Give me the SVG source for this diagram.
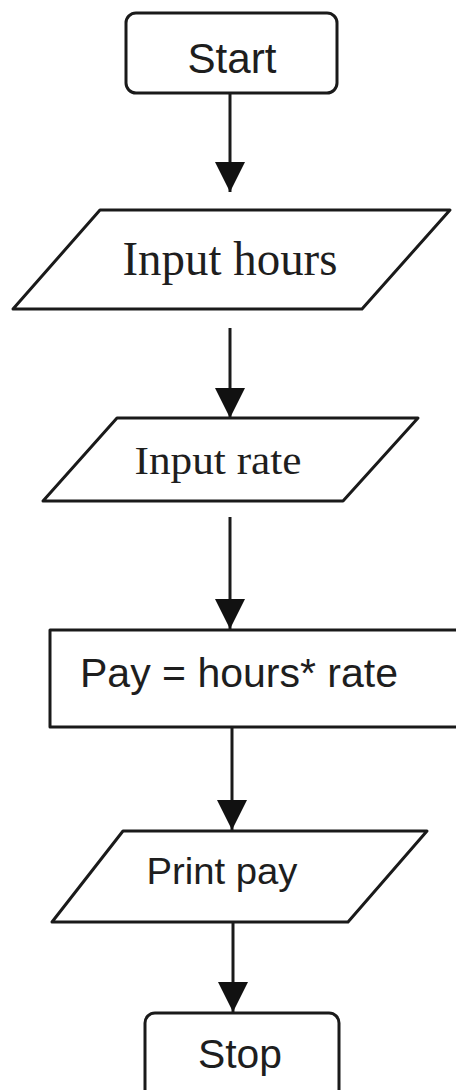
<svg xmlns="http://www.w3.org/2000/svg" width="456" height="1090" viewBox="0 0 456 1090">
<style>
.shape{fill:#fff;stroke:#1a1a1a;stroke-width:3;stroke-linejoin:round}
.edge{stroke:#1a1a1a;stroke-width:3;fill:none}
.sans{font-family:"Liberation Sans",Arial,sans-serif;fill:#1e1e1e}
.serif{font-family:"Liberation Serif","Times New Roman",serif;fill:#1e1e1e}
</style>
<defs>
<marker id="ah" viewBox="0 0 30 30" refX="30" refY="15" markerWidth="30" markerHeight="30" markerUnits="userSpaceOnUse" orient="auto">
<path d="M0,0 L30,15 L0,30 Z" fill="#111"/>
</marker>
</defs>
<rect width="456" height="1090" fill="#fff"/>
<g id="connectors">
<line class="edge" x1="230" y1="93" x2="230" y2="192" marker-end="url(#ah)"/>
<line class="edge" x1="230" y1="328" x2="230" y2="418" marker-end="url(#ah)"/>
<line class="edge" x1="230" y1="517" x2="230" y2="629" marker-end="url(#ah)"/>
<line class="edge" x1="232" y1="727" x2="232" y2="830" marker-end="url(#ah)"/>
<line class="edge" x1="233" y1="922" x2="233" y2="1012" marker-end="url(#ah)"/>
</g>
<g id="start">
<rect class="shape" x="126" y="13" width="211" height="80" rx="10"/>
<text class="sans" x="232" y="73" font-size="43" text-anchor="middle" textLength="89" lengthAdjust="spacingAndGlyphs">Start</text>
</g>
<g id="input-hours">
<polygon class="shape" points="100,210 450,210 362,309 13,309"/>
<text class="serif" x="230" y="275" font-size="49" text-anchor="middle" textLength="215" lengthAdjust="spacingAndGlyphs">Input hours</text>
</g>
<g id="input-rate">
<polygon class="shape" points="117,418 418,418 343,501 43,501"/>
<text class="serif" x="218" y="474" font-size="41" text-anchor="middle" textLength="167" lengthAdjust="spacingAndGlyphs">Input rate</text>
</g>
<g id="compute-pay">
<rect class="shape" x="50" y="630" width="420" height="97"/>
<text class="sans" x="239" y="687" font-size="40" text-anchor="middle" textLength="318" lengthAdjust="spacingAndGlyphs">Pay = hours* rate</text>
</g>
<g id="print-pay">
<polygon class="shape" points="123,831 427,831 348,922 52,922"/>
<text class="sans" x="222" y="884" font-size="37" text-anchor="middle" textLength="151" lengthAdjust="spacingAndGlyphs">Print pay</text>
</g>
<g id="stop">
<rect class="shape" x="145" y="1013" width="194" height="92" rx="10"/>
<text class="sans" x="240" y="1068" font-size="41" text-anchor="middle" textLength="84" lengthAdjust="spacingAndGlyphs">Stop</text>
</g>
</svg>
